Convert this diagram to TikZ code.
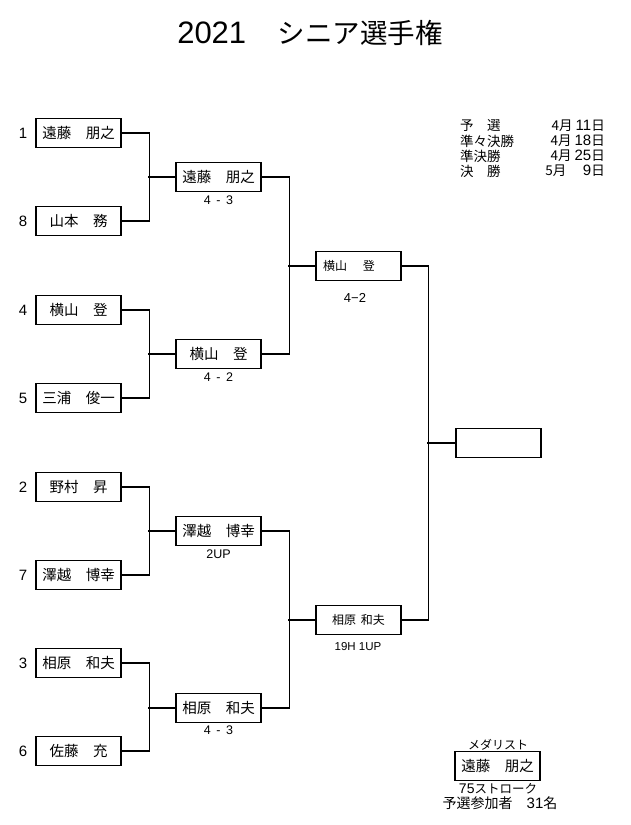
\documentclass[tikz,border=0pt]{standalone}
\usepackage{fontspec}
\setmainfont{Noto Sans CJK JP}
\newfontfamily\arialf{Liberation Sans}
\begin{document}
\begin{tikzpicture}[x=1pt,y=-1pt,
  namebox/.style={draw, line width=1.2pt, minimum width=85pt, minimum height=29pt, inner sep=0pt, font=\fontsize{14.5}{15}\selectfont},
  semibox/.style={namebox, font=\fontsize{12}{13}\selectfont},
  seed/.style={font=\arialf\fontsize{15}{16}\selectfont},
  score/.style={font=\arialf\fontsize{12.5}{13}\selectfont},
  sched/.style={font=\fontsize{13.5}{14}\selectfont, inner sep=0pt},
  medtxt/.style={font=\fontsize{12.5}{13}\selectfont, inner sep=0pt},
  link/.style={line width=1.1pt}]
\useasboundingbox (0,0) rectangle (630,825);
\fill[white] (0,0) rectangle (630,825);

% title
\node[font=\fontsize{27.5}{28}\selectfont] (title) at (310,33) {{\arialf\fontsize{31}{32}\selectfont 2021}\hspace{4pt}　シニア選手権};

% first round
\node[namebox] (p1) at (78.5,133) {遠藤　朋之};
\node[namebox] (p8) at (78.5,221) {山本　務};
\node[namebox] (p4) at (78.5,310) {横山　登};
\node[namebox] (p5) at (78.5,398) {三浦　俊一};
\node[namebox] (p2) at (78.5,487) {野村　昇};
\node[namebox] (p7) at (78.5,575) {澤越　博幸};
\node[namebox] (p3) at (78.5,663) {相原　和夫};
\node[namebox] (p6) at (78.5,751) {佐藤　充};

% seeds
\node[seed] (n1) at (23,133) {1};
\node[seed] (n8) at (23,221) {8};
\node[seed] (n4) at (23,310) {4};
\node[seed] (n5) at (23,398) {5};
\node[seed] (n2) at (23,487) {2};
\node[seed] (n7) at (23,575) {7};
\node[seed] (n3) at (23,663) {3};
\node[seed] (n6) at (23,751) {6};

% quarter finals
\node[namebox] (q1) at (218.5,177) {遠藤　朋之};
\node[namebox] (q2) at (218.5,354) {横山　登};
\node[namebox] (q3) at (218.5,531) {澤越　博幸};
\node[namebox] (q4) at (218.5,708) {相原　和夫};
\node[score] (l1) at (218.5,200) {4 \,-\, 3};
\node[score] (l2) at (218.5,377) {4 \,-\, 2};
\node[score] (l3) at (218.5,554) {2UP};
\node[score] (l4) at (218.5,730) {4 \,-\, 3};

% semi finals
\node[semibox, text width=71pt, align=left] (s1) at (358.5,266) {横山　 登};
\node[semibox] (s2) at (358.5,620) {相原 \,和夫};
\node[score, font=\arialf\fontsize{13}{14}\selectfont] (l5) at (355,298) {4−2};
\node[score, font=\arialf\fontsize{11.5}{12}\selectfont] (l6) at (358,647) {19H 1UP};

% final
\node[namebox] (fin) at (498.5,443) {};

% connectors
\draw[link] (p1.east) -- ++(28,0) |- (p8.east);
\draw[link] (p4.east) -- ++(28,0) |- (p5.east);
\draw[link] (p2.east) -- ++(28,0) |- (p7.east);
\draw[link] (p3.east) -- ++(28,0) |- (p6.east);
\draw[link] (q1.west) -- ++(-27,0);
\draw[link] (q2.west) -- ++(-27,0);
\draw[link] (q3.west) -- ++(-27,0);
\draw[link] (q4.west) -- ++(-27,0);
\draw[link] (q1.east) -- ++(28,0) |- (q2.east);
\draw[link] (q3.east) -- ++(28,0) |- (q4.east);
\draw[link] (s1.west) -- ++(-27,0);
\draw[link] (s2.west) -- ++(-27,0);
\draw[link] (s1.east) -- ++(27,0) |- (s2.east);
\draw[link] (fin.west) -- ++(-28,0);

% schedule
\node[sched, anchor=west] (a1) at (460,126) {予　選};
\node[sched, anchor=west] (a2) at (460,141) {準々決勝};
\node[sched, anchor=west] (a3) at (460,156) {準決勝};
\node[sched, anchor=west] (a4) at (460,171) {決　勝};
\node[sched, anchor=east] (d1) at (605,126) {4月 {\arialf\fontsize{15}{15}\selectfont 11}日};
\node[sched, anchor=east] (d2) at (605,141) {4月 {\arialf\fontsize{15}{15}\selectfont 18}日};
\node[sched, anchor=east] (d3) at (605,156) {4月 {\arialf\fontsize{15}{15}\selectfont 25}日};
\node[sched, anchor=east] (d4) at (605,171) {5月　 {\arialf\fontsize{15}{15}\selectfont 9}日};

% medalist
\node[medtxt, font=\fontsize{12}{12}\selectfont] (mt) at (498,745) {メダリスト};
\node[namebox] (med) at (497.5,766) {遠藤　朋之};
\node[medtxt] (ms) at (498,789) {{\arialf\fontsize{14}{14}\selectfont 75}ストローク};
\node[medtxt, font=\fontsize{14}{14}\selectfont] (mp) at (500,803) {予選参加者　{\arialf\fontsize{15}{15}\selectfont 31}名};
\end{tikzpicture}
\end{document}
